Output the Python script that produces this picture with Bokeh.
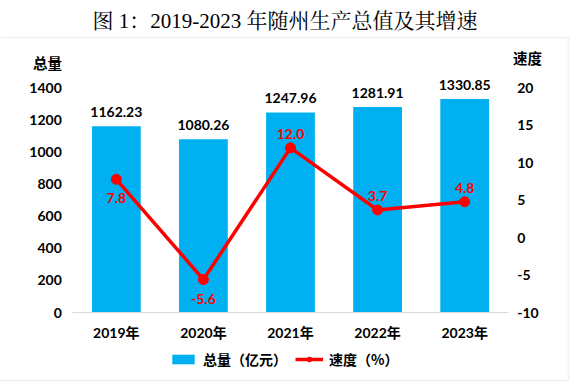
from bokeh.plotting import figure
from bokeh.models import (FactorRange, Range1d, LinearAxis, FixedTicker, Legend, LegendItem,
                          Label, BoxAnnotation, ColumnDataSource, PrintfTickFormatter)
from bokeh.core.properties import value
from bokeh.embed import file_html
from bokeh.resources import INLINE

# ---- data ----
years = ["2019年", "2020年", "2021年", "2022年", "2023年"]
gdp_total = [1162.23, 1080.26, 1247.96, 1281.91, 1330.85]
growth_rate = [7.8, -5.6, 12.0, 3.7, 4.8]
left_ticks = [0, 200, 400, 600, 800, 1000, 1200, 1400]
right_ticks = [-10, -5, 0, 5, 10, 15, 20]
title_text = "图 1：2019-2023 年随州生产总值及其增速"
series_names = ["总量（亿元）", "速度（%）"]
axis_names = ["总量", "速度"]

BLUE = "#00B0F0"
RED = "#FF0000"
NUM_FONT = "Lato, 'Noto Sans CJK SC', sans-serif"
CJK_FONT = "'Noto Sans CJK SC', sans-serif"

# ---- layout (pixels) ----
W, H = 580, 384
FRAME_TOP = 36            # frame spans FRAME_TOP..H vertically, 0..W horizontally
AXIS_BOTTOM_PX = 312      # pixel row of value 0 (left) / -10 (right)
AXIS_TOP_PX = 87.5        # pixel row of 1400 (left) / 20 (right)
L_MIN, L_MAX = 0, 1400
R_MIN, R_MAX = -10, 20
l_scale = (AXIS_BOTTOM_PX - AXIS_TOP_PX) / (L_MAX - L_MIN)
r_scale = (AXIS_BOTTOM_PX - AXIS_TOP_PX) / (R_MAX - R_MIN)
y_start = L_MIN - (H - AXIS_BOTTOM_PX) / l_scale
y_end = L_MIN + (AXIS_BOTTOM_PX - FRAME_TOP) / l_scale
r_start = R_MIN - (H - AXIS_BOTTOM_PX) / r_scale
r_end = R_MIN + (AXIS_BOTTOM_PX - FRAME_TOP) / r_scale

p = figure(width=W, height=H,
           x_range=FactorRange(*years, range_padding=0.83, range_padding_units="absolute"),
           y_range=Range1d(y_start, y_end),
           output_backend="svg", toolbar_location=None,
           min_border_left=0, min_border_right=0, min_border_top=FRAME_TOP, min_border_bottom=0)
p.extra_y_ranges = {"rate": Range1d(r_start, r_end)}

p.title.text = title_text
p.title.text_font = "'Liberation Serif', 'Noto Serif CJK SC', serif"
p.title.text_font_size = "21px"
p.title.text_font_style = "normal"
p.title.text_color = "black"
p.title.align = "left"
p.title.offset = 92
p.title.standoff = 7

p.outline_line_color = None
p.xgrid.visible = False
p.ygrid.visible = False
p.background_fill_color = "white"
p.border_fill_color = "white"

src = ColumnDataSource(dict(x=years, total=gdp_total, rate=growth_rate,
                            total_lbl=[f"{v:.2f}" for v in gdp_total]))

bars = p.vbar(x="x", top="total", width=0.56, source=src, fill_color=BLUE, line_color=None)
p.text(x="x", y="total", text="total_lbl", source=src, text_align="center",
       text_baseline="alphabetic", y_offset=-14, text_font=value(NUM_FONT),
       text_font_size="14px", text_font_style="bold", text_color="black")

line = p.line(x="x", y="rate", source=src, y_range_name="rate", line_color=RED, line_width=3.5)
dots = p.scatter(x="x", y="rate", source=src, y_range_name="rate", size=10,
                 fill_color=RED, line_color=RED)

# rate labels: first two below the point, rest above
below_idx = [0, 1]
above_idx = [i for i in range(len(years)) if i not in below_idx]
for idx, off in ((below_idx, 19), (above_idx, -14)):
    p.text(x=[years[i] for i in idx], y=[growth_rate[i] for i in idx],
           text=[f"{growth_rate[i]:.1f}" for i in idx], y_range_name="rate",
           text_align="center", text_baseline="middle", y_offset=off,
           text_font=value(NUM_FONT), text_font_size="14px", text_font_style="bold",
           text_color=RED)

# axes (fixed inside the frame)
xa = p.xaxis[0]
xa.fixed_location = 0
xa.bounds = (0, len(years))
xa.axis_line_color = "#D9D9D9"
xa.axis_line_width = 1
xa.major_tick_line_color = None
xa.major_tick_out = 0
xa.major_tick_in = 0
xa.minor_tick_line_color = None
xa.major_label_standoff = 11
xa.major_label_text_font = NUM_FONT
xa.major_label_text_font_size = "14px"
xa.major_label_text_font_style = "bold"
xa.major_label_text_color = "black"

def style_y(ax, standoff):
    ax.axis_line_color = None
    ax.major_tick_line_color = None
    ax.minor_tick_line_color = None
    ax.major_tick_out = 0
    ax.major_tick_in = 0
    ax.major_label_standoff = standoff
    ax.major_label_text_font = NUM_FONT
    ax.major_label_text_font_size = "14px"
    ax.major_label_text_font_style = "bold"
    ax.major_label_text_color = "black"
    ax.formatter = PrintfTickFormatter(format="%d")

ya = p.yaxis[0]
ya.ticker = FixedTicker(ticks=left_ticks)
ya.fixed_location = 0
style_y(ya, 11)

ra = LinearAxis(y_range_name="rate", ticker=FixedTicker(ticks=right_ticks))
ra.fixed_location = len(years)
style_y(ra, 9)
p.add_layout(ra, "right")

# axis titles (screen units: relative to frame, y upward)
p.add_layout(Label(x=47, y=H - 62, x_units="screen", y_units="screen", text=axis_names[0],
                   text_align="center", text_baseline="middle", text_font=CJK_FONT,
                   text_font_size="14.5px", text_font_style="bold", text_color="black"))
p.add_layout(Label(x=527, y=H - 57, x_units="screen", y_units="screen", text=axis_names[1],
                   text_align="center", text_baseline="middle", text_font=CJK_FONT,
                   text_font_size="14.5px", text_font_style="bold", text_color="black"))

# legend
legend = Legend(items=[LegendItem(label=series_names[0], renderers=[bars]),
                       LegendItem(label=series_names[1], renderers=[line, dots])],
                orientation="horizontal", location=(169, 15),
                label_text_font=CJK_FONT, label_text_font_size="14px",
                label_text_font_style="bold", label_text_color="black",
                glyph_width=28, glyph_height=12, label_height=16, label_standoff=6, spacing=8,
                padding=0, margin=0, border_line_color=None, background_fill_alpha=0)
p.add_layout(legend, "center")

# light border around the chart area
p.add_layout(BoxAnnotation(left=-10, right=568, top=H - 37, bottom=H - 380,
                           left_units="screen", right_units="screen",
                           top_units="screen", bottom_units="screen",
                           fill_color=None, fill_alpha=0, line_color="#D0D0D0", line_width=1.5))

open("out.html", "w").write(file_html(p, INLINE))
